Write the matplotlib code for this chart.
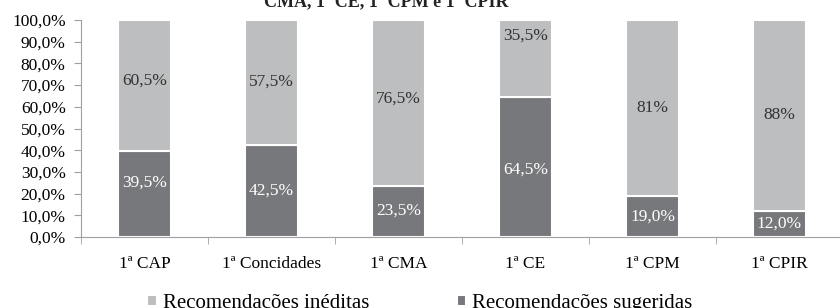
import numpy as np
import matplotlib
matplotlib.use('Agg')
import matplotlib.pyplot as plt

plt.rcParams['font.family'] = ['Liberation Serif', 'DejaVu Serif']

categories = ['1ª CAP', '1ª Concidades', '1ª CMA', '1ª CE', '1ª CPM', '1ª CPIR']
sugeridas = [39.5, 42.5, 23.5, 64.5, 19.0, 12.0]
ineditas = [60.5, 57.5, 76.5, 35.5, 81.0, 88.0]
sug_labels = ['39,5%', '42,5%', '23,5%', '64,5%', '19,0%', '12,0%']
ine_labels = ['60,5%', '57,5%', '76,5%', '35,5%', '81%', '88%']
yticks = np.arange(0, 101, 10)
ytick_labels = ['0,0%', '10,0%', '20,0%', '30,0%', '40,0%', '50,0%',
                '60,0%', '70,0%', '80,0%', '90,0%', '100,0%']

# small manual nudges of some labels (as in the original)
sug_nudge = [5.5, 0, 0.5, -1, 0, 0]
ine_nudge = [2.5, 0.5, 2, 10.5, 0, 0]

light = '#BDBEC0'
dark = '#77787B'

fig = plt.figure(figsize=(8.4, 3.08), dpi=100)
ax = fig.add_axes([81/840, 1 - 237/308, 762/840, 217/308])

x = np.arange(len(categories))
w = 0.41
ax.bar(x, sugeridas, w, color=dark, edgecolor='white', linewidth=1.5,
       label='Recomendações sugeridas')
ax.bar(x, ineditas, w, bottom=sugeridas, color=light, edgecolor='white',
       linewidth=1.5, label='Recomendações inéditas')

for i in range(len(categories)):
    ax.text(x[i], sugeridas[i] / 2 + sug_nudge[i], sug_labels[i], ha='center',
            va='center', color='white', fontsize=12.5)
    ax.text(x[i], sugeridas[i] + ineditas[i] / 2 + ine_nudge[i], ine_labels[i],
            ha='center', va='center', color='#333333', fontsize=12.5)

ax.set_xlim(-0.5, len(categories) - 0.5)
ax.set_ylim(0, 100)
ax.set_yticks(yticks)
ax.set_yticklabels(ytick_labels, fontsize=12.5)
ax.set_xticks(x)
ax.set_xticklabels(categories, fontsize=12.5)
ax.tick_params(axis='x', length=0, pad=14)
ax.set_xticks(np.arange(-0.5, len(categories), 1), minor=True)
ax.tick_params(axis='x', which='minor', length=5, color='#A0A0A0')
ax.tick_params(axis='y', length=5, color='#A0A0A0', pad=6)
for s in ['top', 'right']:
    ax.spines[s].set_visible(False)
for s in ['left', 'bottom']:
    ax.spines[s].set_color('#A0A0A0')

# title is cut off at the top in the original
fig.text(0.46, 1 - 6/308, 'CMA, 1ª CE, 1ª CPM e 1ª CPIR', ha='center',
         va='baseline', fontsize=13, fontweight='bold', color='#222222')

h, l = ax.get_legend_handles_labels()
fig.legend(h[::-1], l[::-1], loc='center', bbox_to_anchor=(0.5, 0.015),
           ncol=2, frameon=False, fontsize=15, handlelength=0.45,
           handleheight=0.45, handletextpad=0.3, columnspacing=4.2)

fig.savefig('out.png', dpi=100)
